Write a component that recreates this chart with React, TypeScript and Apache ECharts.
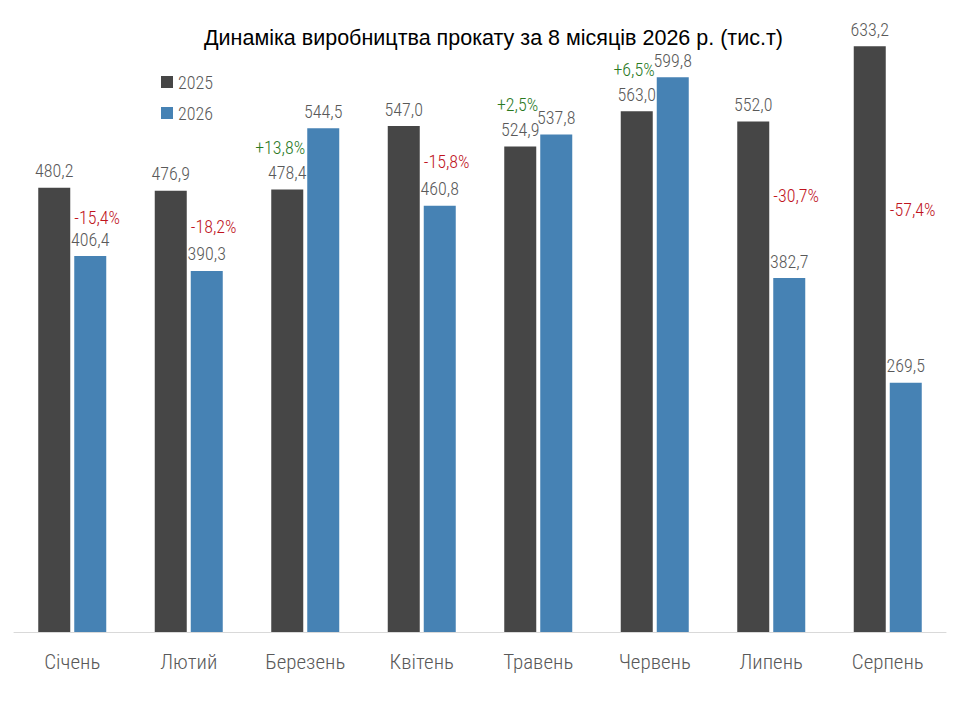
import * as echarts from 'echarts';
import { useEffect, useRef } from 'react';

const months = ['Січень', 'Лютий', 'Березень', 'Квітень', 'Травень', 'Червень', 'Липень', 'Серпень'];
const values2025 = [480.2, 476.9, 478.4, 547.0, 524.9, 563.0, 552.0, 633.2];
const values2026 = [406.4, 390.3, 544.5, 460.8, 537.8, 599.8, 382.7, 269.5];

const FONT = '"Roboto Condensed", "Arial Narrow", sans-serif';
const TITLE_FONT = '"Liberation Sans", Arial, sans-serif';
const fmt = (v: number) => v.toFixed(1).replace('.', ',');

const App = () => {
    const chartRef = useRef<HTMLDivElement>(null);

    useEffect(() => {
        document.body.style.margin = '0';
        if (!chartRef.current) return;
        const chart = echarts.init(chartRef.current, null, { renderer: 'svg' });

        // change 2026 vs 2025, in percent
        const changes = values2025.map((a, i) => [i, a, values2026[i], (values2026[i] / a - 1) * 100]);

        const valueLabel = {
            show: true,
            position: 'top',
            distance: 8,
            fontFamily: FONT,
            fontWeight: 300,
            fontSize: 18,
            color: '#595959',
            formatter: (p: any) => fmt(p.value),
        };

        chart.setOption({
            animation: false,
            textStyle: { fontFamily: FONT },
            title: {
                text: 'Динаміка виробництва прокату за 8 місяців 2026 р. (тис.т)',
                left: 199,
                top: 22,
                textStyle: { fontFamily: TITLE_FONT, fontSize: 21.5, fontWeight: 'normal', color: '#000' },
            },
            legend: {
                orient: 'vertical',
                left: 156,
                top: 68,
                itemWidth: 12,
                itemHeight: 12,
                itemGap: 13,
                icon: 'rect',
                data: ['2025', '2026'],
                textStyle: { fontFamily: FONT, fontWeight: 300, fontSize: 18, color: '#595959' },
            },
            grid: { left: 14, right: 14, top: 40, bottom: 88 },
            xAxis: {
                type: 'category',
                data: months,
                axisTick: { show: false },
                axisLine: { lineStyle: { color: '#d9d9d9' } },
                axisLabel: { fontFamily: FONT, fontWeight: 300, fontSize: 21, color: '#595959', margin: 19 },
            },
            yAxis: { type: 'value', min: 0, max: 640, show: false, splitLine: { show: false } },
            series: [
                {
                    name: '2025',
                    type: 'bar',
                    data: values2025,
                    barWidth: 32,
                    barGap: '12.5%',
                    itemStyle: { color: '#464646' },
                    label: valueLabel,
                },
                {
                    name: '2026',
                    type: 'bar',
                    data: values2026,
                    barWidth: 32,
                    itemStyle: { color: '#4682b4' },
                    label: valueLabel,
                },
                {
                    type: 'custom',
                    data: changes,
                    silent: true,
                    z: 10,
                    renderItem: (_params: any, api: any) => {
                        const idx = api.value(0);
                        const a = api.value(1);
                        const b = api.value(2);
                        const ch = api.value(3);
                        const up = ch >= 0;
                        const anchor = up ? a + 45 : (a + b) / 2 + 5;
                        const pt = api.coord([idx, anchor]);
                        const text = (up ? '+' : '') + ch.toFixed(1).replace('.', ',') + '%';
                        return {
                            type: 'text',
                            x: pt[0] + (up ? 0 : 2),
                            y: pt[1],
                            style: {
                                text,
                                fontFamily: FONT,
                                fontWeight: 300,
                                fontSize: 18,
                                fill: up ? '#2a7a1f' : '#c0141e',
                                align: up ? 'right' : 'left',
                                verticalAlign: 'middle',
                            },
                        };
                    },
                },
            ],
        });

        const onResize = () => chart.resize();
        window.addEventListener('resize', onResize);
        return () => {
            window.removeEventListener('resize', onResize);
            chart.dispose();
        };
    }, []);

    return <div ref={chartRef} style={{ width: 960, height: 720 }} />;
};

export default App;
